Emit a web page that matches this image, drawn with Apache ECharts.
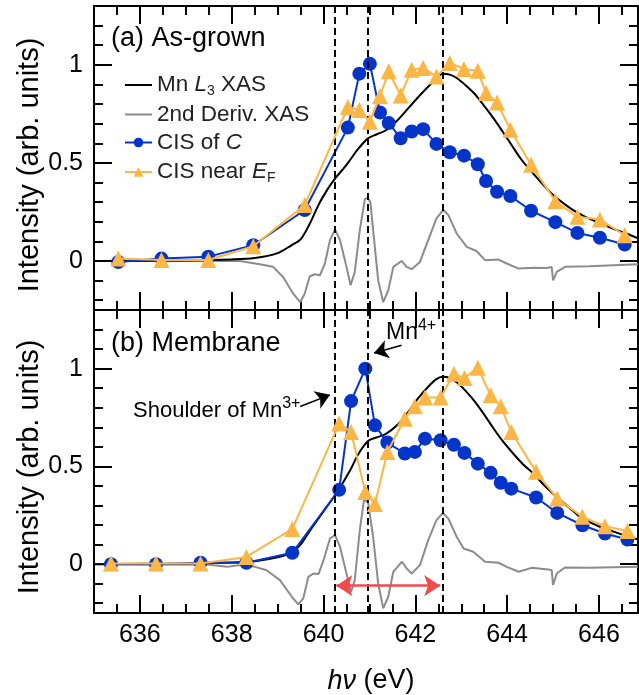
<!DOCTYPE html>
<html>
<head>
<meta charset="utf-8">
<script src="https://cdn.jsdelivr.net/npm/echarts@6/dist/echarts.min.js"></script>
<style>
html,body{margin:0;padding:0;background:#fff}
#chart{width:639px;height:695px}
</style>
</head>
<body>
<div id="chart"></div>
<script>
// photon energies of the CIS points
var eA = [635.53, 636.47, 637.49, 638.47, 639.59, 640.53, 640.78, 641.01, 641.23, 641.42, 641.68, 641.92, 642.17, 642.46, 642.75, 643.06, 643.36, 643.54, 643.78, 644.07, 644.52, 645.05, 645.53, 646.02, 646.56];
var cisA = [-0.005, 0.012, 0.022, 0.08, 0.26, 0.68, 0.955, 1.005, 0.757, 0.703, 0.626, 0.66, 0.672, 0.597, 0.554, 0.537, 0.493, 0.408, 0.353, 0.331, 0.256, 0.198, 0.143, 0.118, 0.084];
var efA = [0.012, 0.005, 0.005, 0.075, 0.285, 0.785, 0.77, 0.71, 0.84, 0.967, 0.844, 0.975, 0.984, 0.94, 1.01, 0.979, 0.97, 0.856, 0.808, 0.669, 0.49, 0.305, 0.225, 0.212, 0.131];

var eB = [635.37, 636.35, 637.32, 638.32, 639.32, 640.34, 640.60, 640.91, 641.12, 641.39, 641.77, 641.99, 642.21, 642.55, 642.84, 643.07, 643.36, 643.64, 643.86, 644.09, 644.63, 645.09, 645.64, 646.13, 646.62];
var cisB = [0.0, 0.0, 0.007, 0.007, 0.058, 0.38, 0.834, 1.0, 0.71, 0.622, 0.566, 0.574, 0.642, 0.634, 0.611, 0.569, 0.514, 0.467, 0.416, 0.386, 0.341, 0.262, 0.199, 0.157, 0.126];
var efB = [0.003, 0.003, 0.003, 0.037, 0.18, 0.719, 0.676, 0.369, 0.307, 0.574, 0.744, 0.807, 0.852, 0.852, 0.974, 0.952, 1.005, 0.864, 0.807, 0.676, 0.472, 0.336, 0.242, 0.194, 0.17];

// Mn L3 XAS
var xasEA = [635, 637, 638, 638.5, 639, 639.3, 639.5, 639.7, 639.9, 640.1, 640.25, 640.5, 640.75, 640.97, 641.15, 641.35, 641.6, 641.85, 642.1, 642.35, 642.6, 642.75, 642.9, 643.1, 643.3, 643.5, 643.7, 643.9, 644.1, 644.3, 644.55, 644.8, 645.0, 645.25, 645.5, 645.75, 646.0, 646.3, 646.6, 646.85];
var xasA = [0, 0.003, 0.008, 0.015, 0.04, 0.08, 0.11, 0.19, 0.29, 0.37, 0.42, 0.49, 0.57, 0.625, 0.645, 0.665, 0.715, 0.78, 0.845, 0.905, 0.955, 0.95, 0.933, 0.895, 0.85, 0.79, 0.728, 0.66, 0.59, 0.52, 0.45, 0.385, 0.336, 0.29, 0.25, 0.22, 0.195, 0.165, 0.14, 0.115];
var xasEB = [635, 637, 638, 638.5, 639, 639.3, 639.5, 639.7, 640.0, 640.3, 640.58, 640.75, 640.97, 641.15, 641.35, 641.6, 641.85, 642.05, 642.25, 642.45, 642.6, 642.75, 642.9, 643.1, 643.3, 643.5, 643.7, 643.9, 644.13, 644.35, 644.57, 644.8, 645.08, 645.35, 645.59, 645.8, 646.02, 646.4, 646.85];
var xasB = [0, 0.003, 0.008, 0.015, 0.035, 0.06, 0.1, 0.17, 0.27, 0.37, 0.48, 0.56, 0.63, 0.648, 0.665, 0.71, 0.78, 0.845, 0.9, 0.945, 0.958, 0.952, 0.93, 0.885, 0.83, 0.765, 0.695, 0.63, 0.566, 0.51, 0.463, 0.405, 0.344, 0.29, 0.242, 0.215, 0.191, 0.16, 0.126];

// 2nd derivative of XAS
var derEA = [635, 637.5, 638.18, 638.61, 638.9, 639.12, 639.34, 639.49, 639.59, 639.7, 639.81, 639.92, 640.03, 640.14, 640.25, 640.36, 640.5, 640.59, 640.68, 640.79, 640.9, 640.96, 641.02, 641.08, 641.19, 641.3, 641.41, 641.52, 641.7, 641.81, 641.92, 642.1, 642.28, 642.46, 642.61, 642.72, 642.9, 643.12, 643.33, 643.52, 643.81, 643.99, 644.25, 644.57, 644.86, 644.97, 645.0, 645.08, 645.26, 645.8, 646.85];
var derA = [0, 0, 0, -0.017, -0.03, -0.082, -0.167, -0.21, -0.167, -0.078, -0.068, -0.073, -0.013, 0.106, 0.16, 0.106, -0.03, -0.124, -0.056, 0.157, 0.315, 0.322, 0.3, 0.157, -0.099, -0.21, -0.15, -0.03, 0.0, -0.03, -0.042, -0.005, 0.106, 0.217, 0.26, 0.234, 0.14, 0.072, 0.051, 0.004, 0.007, -0.013, -0.039, -0.034, -0.036, -0.031, -0.099, -0.056, -0.03, -0.027, -0.017];
var derEB = [635, 637.5, 637.9, 638.18, 638.51, 638.76, 639.05, 639.31, 639.45, 639.56, 639.67, 639.78, 639.89, 640.0, 640.14, 640.25, 640.36, 640.49, 640.6, 640.68, 640.79, 640.88, 640.97, 641.08, 641.19, 641.3, 641.41, 641.52, 641.61, 641.71, 641.81, 641.92, 642.1, 642.28, 642.46, 642.6, 642.72, 642.9, 643.05, 643.26, 643.52, 643.81, 643.99, 644.25, 644.53, 644.9, 644.97, 645.0, 645.08, 645.26, 645.8, 646.85];
var derB = [0, -0.003, -0.014, -0.005, -0.014, -0.031, -0.082, -0.167, -0.206, -0.175, -0.065, -0.048, -0.051, 0.02, 0.131, 0.148, 0.088, -0.039, -0.141, -0.082, 0.174, 0.327, 0.318, 0.14, -0.099, -0.226, -0.167, -0.039, -0.014, 0.012, -0.022, -0.048, -0.005, 0.123, 0.225, 0.262, 0.233, 0.14, 0.08, 0.063, 0.012, 0.007, -0.014, -0.039, -0.019, -0.027, -0.031, -0.107, -0.048, -0.017, -0.019, -0.014];

var peakLines = [640.25, 640.97, 642.6];
var xMajor = [636, 638, 640, 642, 644, 646];
var xMinor = [635.5, 636, 636.5, 637, 637.5, 638, 638.5, 639, 639.5, 640, 640.5, 641, 641.5, 642, 642.5, 643, 643.5, 644, 644.5, 645, 645.5, 646, 646.5];
var yMajor = [0, 0.5, 1];
var yMinor = [-0.2, -0.1, 0.1, 0.2, 0.3, 0.4, 0.6, 0.7, 0.8, 0.9, 1.1, 1.2];

var FONT = '"Liberation Sans", Arial, Helvetica, sans-serif';
var BLUE = '#0535c8', ORANGE = '#fbb646', GRAY = '#8c8c8c', RED = '#f24a4a';

function zip(a, b) { return a.map(function (v, i) { return [v, b[i]]; }); }

function xAx(grid, pos, ticks, len, labels) {
  return {
    type: 'value', gridIndex: grid, position: pos, min: 635, max: 646.85,
    axisLine: { show: true, onZero: false, lineStyle: { color: '#000', width: 2 } },
    axisTick: { show: true, inside: true, length: len, customValues: ticks, lineStyle: { color: '#000', width: 2 } },
    axisLabel: { show: labels, customValues: xMajor, margin: 10, color: '#000', fontSize: 25, fontFamily: FONT },
    splitLine: { show: false }
  };
}
function yAx(grid, pos, ticks, len, labels) {
  return {
    type: 'value', gridIndex: grid, position: pos, min: -0.25, max: 1.3,
    axisLine: { show: true, onZero: false, lineStyle: { color: '#000', width: 2 } },
    axisTick: { show: true, inside: true, length: len, customValues: ticks, lineStyle: { color: '#000', width: 2 } },
    axisLabel: { show: labels, customValues: yMajor, margin: 11, color: '#000', fontSize: 25, fontFamily: FONT,
      formatter: function (v) { return String(v); } },
    splitLine: { show: false }
  };
}

var xAxes = [], yAxes = [];
[0, 1].forEach(function (g) {
  xAxes.push(xAx(g, 'bottom', xMajor, 18, g === 1));
  xAxes.push(xAx(g, 'bottom', xMinor, 9, false));
  xAxes.push(xAx(g, 'top', xMajor, 18, false));
  xAxes.push(xAx(g, 'top', xMinor, 9, false));
  yAxes.push(yAx(g, 'left', yMajor, 18, true));
  yAxes.push(yAx(g, 'left', yMinor, 9, false));
  yAxes.push(yAx(g, 'right', yMajor, 18, false));
  yAxes.push(yAx(g, 'right', yMinor, 9, false));
});

var dashed = {
  silent: true, symbol: 'none', label: { show: false },
  lineStyle: { color: '#000', width: 2, type: [7, 4] },
  data: peakLines.map(function (v) { return { xAxis: v }; })
};

function panel(g, cisE, cis, ef, xasE, xas, derE, der) {
  var ax = g * 4;
  return [
    { name: '2nd Deriv. XAS', type: 'line', xAxisIndex: ax, yAxisIndex: ax, data: zip(derE, der),
      symbol: 'none', lineStyle: { color: GRAY, width: 2 }, itemStyle: { color: GRAY }, z: 2 },
    { name: 'Mn L3 XAS', type: 'line', xAxisIndex: ax, yAxisIndex: ax, data: zip(xasE, xas),
      symbol: 'none', smooth: 0.3, lineStyle: { color: '#000', width: 2 }, itemStyle: { color: '#000' }, z: 3,
      markLine: dashed },
    { name: 'CIS of C', type: 'line', xAxisIndex: ax, yAxisIndex: ax, data: zip(cisE, cis),
      symbol: 'circle', symbolSize: 14, lineStyle: { color: BLUE, width: 2 }, itemStyle: { color: BLUE }, z: 4 },
    { name: 'CIS near EF', type: 'line', xAxisIndex: ax, yAxisIndex: ax, data: zip(cisE, ef),
      symbol: 'triangle', symbolSize: 16, lineStyle: { color: ORANGE, width: 2 }, itemStyle: { color: ORANGE }, z: 5 }
  ];
}

var series = panel(0, eA, cisA, efA, xasEA, xasA, derEA, derA)
  .concat(panel(1, eB, cisB, efB, xasEB, xasB, derEB, derB));

// annotation arrows in panel (b)
series.push({
  type: 'line', xAxisIndex: 4, yAxisIndex: 4, data: [], silent: true, z: 6,
  markLine: {
    silent: true, label: { show: false }, symbolSize: 14,
    data: [
      [{ coord: [640.28, -0.11], symbol: 'arrow', symbolSize: 16, lineStyle: { color: RED, width: 2.5, type: 'solid' }, itemStyle: { color: RED } },
       { coord: [642.54, -0.11], symbol: 'arrow', symbolSize: 16 }],
      [{ coord: [641.70, 1.12], symbol: 'none', lineStyle: { color: '#000', width: 1.5, type: 'solid' }, itemStyle: { color: '#000' } },
       { coord: [641.10, 1.08], symbol: 'arrow' }],
      [{ coord: [639.49, 0.806], symbol: 'none', lineStyle: { color: '#000', width: 1.5, type: 'solid' }, itemStyle: { color: '#000' } },
       { coord: [640.14, 0.866], symbol: 'arrow' }]
    ]
  }
});

var supRich = { sup: { fontSize: 16, fontFamily: FONT, padding: [0, 0, 14, 0], fill: '#000' } };

var option = {
  animation: false,
  backgroundColor: '#fff',
  textStyle: { fontFamily: FONT },
  grid: [
    { left: 94, right: 1, top: 6, height: 304 },
    { left: 94, right: 1, top: 310, height: 303 }
  ],
  xAxis: xAxes,
  yAxis: yAxes,
  legend: {
    orient: 'vertical', left: 119, top: 67, itemWidth: 27, itemHeight: 12, itemGap: 5,
    data: [
      { name: 'Mn L3 XAS', itemStyle: { opacity: 0 } },
      { name: '2nd Deriv. XAS', itemStyle: { opacity: 0 } },
      'CIS of C',
      'CIS near EF'
    ],
    formatter: function (n) {
      if (n === 'Mn L3 XAS') return 'Mn {i|L}{sub|3} XAS';
      if (n === 'CIS of C') return 'CIS of {i|C}';
      if (n === 'CIS near EF') return 'CIS near {i|E}{sub|F}';
      return n;
    },
    textStyle: {
      color: '#222', fontSize: 22.5, fontFamily: FONT, lineHeight: 22,
      rich: {
        i: { fontStyle: 'italic', fontSize: 22.5, fontFamily: FONT, color: '#222', lineHeight: 22 },
        sub: { fontSize: 14, fontFamily: FONT, color: '#222', padding: [12, 0, 0, 0], lineHeight: 14 }
      }
    }
  },
  graphic: [
    { type: 'text', left: 111, top: 25, style: { text: '(a) As-grown', font: '27px ' + FONT, fill: '#000' } },
    { type: 'text', left: 111, top: 330, style: { text: '(b) Membrane', font: '27px ' + FONT, fill: '#000' } },
    { type: 'text', x: 30, y: 165, rotation: Math.PI / 2,
      style: { text: 'Intensity (arb. units)', font: '29px ' + FONT, fill: '#000', align: 'center', verticalAlign: 'middle' } },
    { type: 'text', x: 30, y: 467, rotation: Math.PI / 2,
      style: { text: 'Intensity (arb. units)', font: '29px ' + FONT, fill: '#000', align: 'center', verticalAlign: 'middle' } },
    { type: 'text', x: 371, y: 681,
      style: { text: '{it|hν} (eV)', font: '27px ' + FONT, fill: '#000', align: 'center', verticalAlign: 'middle',
        rich: { it: { fontStyle: 'italic', fontSize: 27, fontFamily: FONT, fill: '#000' } } } },
    { type: 'text', x: 133, y: 411,
      style: { text: 'Shoulder of Mn{sup|3+}', font: '22px ' + FONT, fill: '#000', verticalAlign: 'middle', rich: supRich } },
    { type: 'text', x: 386, y: 333,
      style: { text: 'Mn{sup|4+}', font: '23px ' + FONT, fill: '#000', verticalAlign: 'middle', rich: supRich } }
  ],
  series: series
};

var chart = echarts.init(document.getElementById('chart'), null, { renderer: 'canvas' });
chart.setOption(option);
</script>
</body>
</html>
